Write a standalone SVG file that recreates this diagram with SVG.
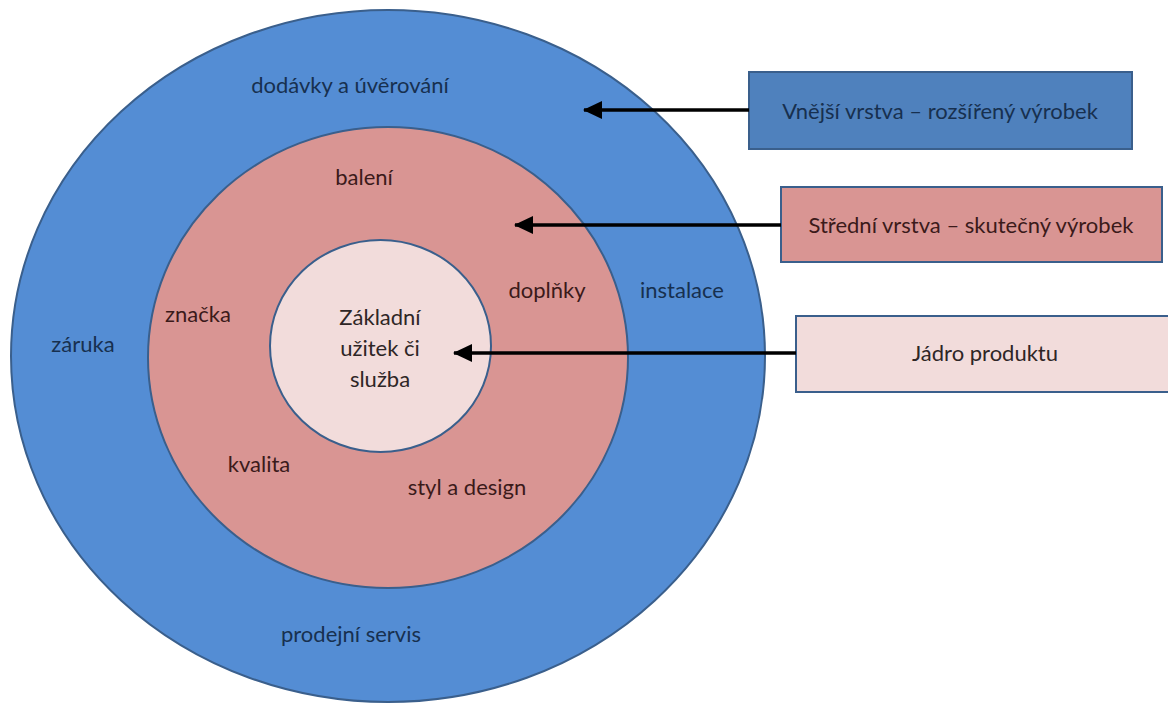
<svg xmlns="http://www.w3.org/2000/svg" width="1168" height="706" viewBox="0 0 1168 706">
  <defs>
    <marker id="arrowhead" markerWidth="19" markerHeight="18" refX="18" refY="9" orient="auto" markerUnits="userSpaceOnUse" viewBox="0 0 19 18">
      <path d="M0,0 L19,9 L0,18 Z" fill="#000"/>
    </marker>
    <style>
      text { font-family: Lato, "Liberation Sans", sans-serif; font-size: 22px; text-anchor: middle; }
      .outer-t { fill: #17304f; }
      .mid-t { fill: #3b1a1a; }
      .core-t { fill: #2e2626; }
      .ring { stroke: #3a5f8c; stroke-width: 2; }
      .box { stroke: #3a5f8c; stroke-width: 2; }
      .conn { stroke: #000; stroke-width: 3.5; fill: none; }
    </style>
  </defs>
  <rect width="1168" height="706" fill="#fff"/>

  <!-- outer ring: augmented product -->
  <g id="outer-layer">
    <ellipse class="ring" cx="388" cy="356" rx="377" ry="346" fill="#548dd4"/>
    <text class="outer-t" x="350" y="93">dodávky a úvěrování</text>
    <text class="outer-t" x="83" y="352">záruka</text>
    <text class="outer-t" x="682" y="298">instalace</text>
    <text class="outer-t" x="351" y="642">prodejní servis</text>
  </g>

  <!-- middle ring: actual product -->
  <g id="middle-layer">
    <ellipse class="ring" cx="388" cy="357.5" rx="240" ry="230.5" fill="#d99593"/>
    <text class="mid-t" x="364" y="185">balení</text>
    <text class="mid-t" x="198" y="322">značka</text>
    <text class="mid-t" x="547" y="298">doplňky</text>
    <text class="mid-t" x="259" y="472">kvalita</text>
    <text class="mid-t" x="467" y="495">styl a design</text>
  </g>

  <!-- core -->
  <g id="core-layer">
    <ellipse class="ring" cx="380.5" cy="346" rx="110.5" ry="106" fill="#f2dcdb"/>
    <text class="core-t" x="380" y="325">Základní</text>
    <text class="core-t" x="380" y="356">užitek či</text>
    <text class="core-t" x="380" y="387">služba</text>
  </g>

  <!-- legend boxes -->
  <g id="box-outer">
    <rect class="box" x="749" y="72" width="383" height="77" fill="#4f81bd"/>
    <text class="outer-t" x="940" y="119">Vnější vrstva – rozšířený výrobek</text>
  </g>
  <g id="box-middle">
    <rect class="box" x="781" y="187" width="381" height="75" fill="#d99593"/>
    <text class="mid-t" x="971" y="233">Střední vrstva – skutečný výrobek</text>
  </g>
  <g id="box-core">
    <rect class="box" x="796" y="316" width="380" height="76" fill="#f2dcdb"/>
    <text class="core-t" x="985" y="361">Jádro produktu</text>
  </g>

  <!-- connectors -->
  <g id="connectors">
    <line class="conn" x1="749" y1="110" x2="584" y2="110" marker-end="url(#arrowhead)"/>
    <line class="conn" x1="781" y1="225" x2="515" y2="225" marker-end="url(#arrowhead)"/>
    <line class="conn" x1="796" y1="353" x2="454" y2="353" marker-end="url(#arrowhead)"/>
  </g>
</svg>
